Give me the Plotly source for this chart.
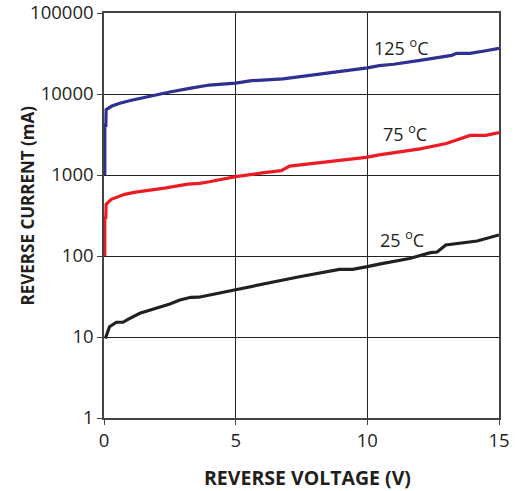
import math
import plotly.graph_objects as go

# Reverse voltage (V) and reverse current (mA)
v_125 = [0.03, 0.03, 0.07, 0.08, 0.3, 0.6, 1.0, 1.4, 2.0, 2.5, 3.3, 4.0, 5.0, 5.6,
         6.8, 7.4, 8.5, 10.0, 10.45, 11.0, 12.0, 13.2, 13.4, 13.9, 14.5, 15.0]
i_125 = [1000, 4100, 4100, 6400, 7100, 7700, 8300, 8900, 9900, 10600, 11800, 12900,
         13600, 14600, 15400, 16300, 18000, 21000, 22400, 23300, 26000, 30000,
         31800, 31800, 34200, 36600]

v_75 = [0.03, 0.03, 0.07, 0.08, 0.28, 0.78, 1.2, 1.67, 2.3, 3.18, 3.64, 4.0, 5.0, 6.0,
        6.73, 7.05, 7.4, 8.0, 9.0, 9.95, 10.45, 11.0, 12.0, 13.0, 13.9, 14.5, 15.0]
i_75 = [100, 300, 300, 435, 500, 577, 615, 645, 690, 770, 790, 825, 953, 1060,
        1130, 1290, 1330, 1400, 1520, 1650, 1770, 1870, 2100, 2450, 3080, 3080, 3330]

v_25 = [0.05, 0.21, 0.47, 0.72, 0.91, 1.36, 1.67, 2.0, 2.5, 2.88, 3.3, 3.6, 4.0, 5.0,
        6.0, 7.42, 8.94, 9.44, 10.0, 10.45, 11.6, 12.4, 12.65, 12.98, 14.17, 15.0]
i_25 = [9.6, 13.4, 15.2, 15.2, 16.5, 19.6, 21.1, 22.8, 25.5, 28.7, 30.9, 31, 33, 38.8,
        45, 55.5, 68.5, 68.5, 74, 79.5, 93, 110, 112, 137, 153, 182]

labels = ["125 <sup>o</sup>C", "75 <sup>o</sup>C", "25 <sup>o</sup>C"]
label_x = [11.29, 11.44, 11.3]
label_y = [38500, 3270, 160]

x_title = "REVERSE VOLTAGE (V)"
y_title = "REVERSE CURRENT (mA)"

x_ticks = [0, 5, 10, 15]
y_ticks = [1, 10, 100, 1000, 10000, 100000]
y_ticktext = ["1", "10", "100", "1000", "10000", "100000"]

colors = ["#2e3192", "#ed1c24", "#231f20"]

fig = go.Figure()
for vx, iy, c in [(v_125, i_125, colors[0]), (v_75, i_75, colors[1]), (v_25, i_25, colors[2])]:
    fig.add_trace(go.Scatter(x=vx, y=iy, mode="lines",
                             line=dict(color=c, width=3.2), showlegend=False))

for t, lx, ly in zip(labels, label_x, label_y):
    fig.add_annotation(x=lx, y=math.log10(ly), yref="y", xref="x", text=t,
                       showarrow=False,
                       font=dict(family="Open Sans", size=18, color="#231f20"))

# axis titles placed as annotations for exact positioning
fig.add_annotation(x=0.516, y=-0.148, xref="paper", yref="paper",
                   text="<b>" + x_title + "</b>", showarrow=False,
                   xanchor="center", yanchor="middle",
                   font=dict(family="Open Sans", size=19.5, color="#231f20"))
fig.add_annotation(x=-0.1937, y=0.526, xref="paper", yref="paper",
                   text="<b>" + y_title + "</b>", showarrow=False, textangle=-90,
                   xanchor="center", yanchor="middle",
                   font=dict(family="Open Sans", size=17, color="#231f20"))

fig.update_layout(
    width=517, height=491,
    margin=dict(l=104, r=18, t=13, b=73, autoexpand=False),
    paper_bgcolor="white", plot_bgcolor="white",
    font=dict(family="Open Sans", size=18, color="#231f20"),
    xaxis=dict(
        range=[0, 15], tickvals=x_ticks, ticks="outside", ticklen=5,
        tickcolor="#444", showline=True, linecolor="#444", linewidth=1.5,
        mirror=True, showgrid=True, gridcolor="#222", gridwidth=1,
        zeroline=False, tickfont=dict(size=18.5), ticklabeloverflow="allow",
    ),
    yaxis=dict(
        type="log", range=[0, 5], tickvals=y_ticks, ticktext=y_ticktext,
        ticks="outside", ticklen=5, tickcolor="#444", showline=True,
        linecolor="#444", linewidth=1.5, mirror=True, showgrid=True,
        gridcolor="#222", gridwidth=1, zeroline=False, tickfont=dict(size=18.5),
        ticklabeloverflow="allow",
    ),
)

fig.write_html("out.html")
